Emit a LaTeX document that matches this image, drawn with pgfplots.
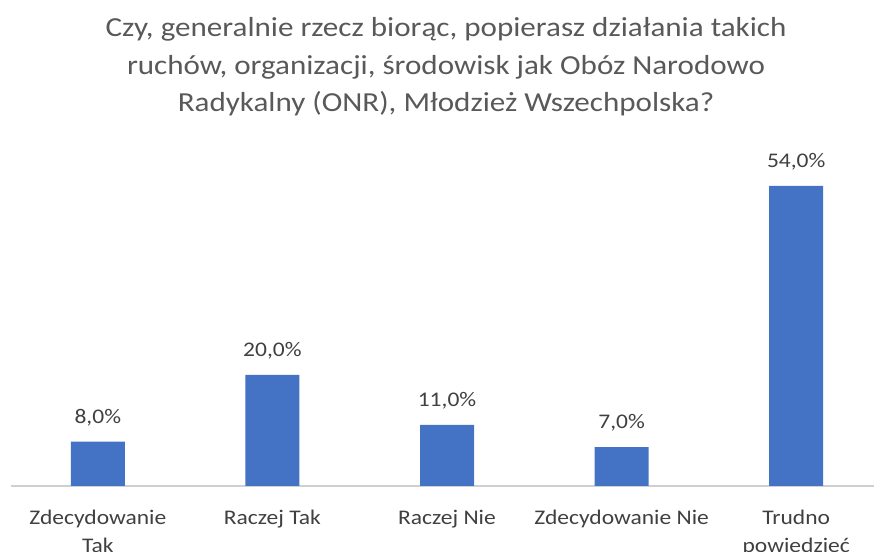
\documentclass[border=0pt]{standalone}
\usepackage{pgfplots}
\pgfplotsset{compat=1.18}
\usepackage{fontspec}
\setmainfont{Carlito}[FakeStretch=1.13]
\definecolor{barblue}{HTML}{4472C4}
\definecolor{titlegray}{HTML}{595959}
\definecolor{labelgray}{HTML}{404040}
\definecolor{axisgray}{HTML}{D0D0D0}

\begin{document}
\begin{tikzpicture}[x=1bp,y=1bp]
\useasboundingbox (0,0) rectangle (874,552);
\clip (0,0) rectangle (874,552);
\node[align=center, text=titlegray, font=\fontsize{27.5bp}{37.5bp}\selectfont]
  at (446,485) {Czy, generalnie rzecz biorąc, popierasz działania takich\\
  ruchów, organizacji, środowisk jak Obóz Narodowo\\
  Radykalny (ONR), Młodzież Wszechpolska?};
\begin{axis}[
  at={(10.5bp,66bp)}, anchor=south west,
  width=873bp, height=330bp, scale only axis,
  ymin=0, ymax=59.4,
  xmin=-0.5, xmax=4.5,
  ybar, bar width=54bp,
  axis x line=bottom, axis y line=none,
  x axis line style={draw=axisgray, line width=1.3bp, -},
  xtick=data,
  xticklabels={{Zdecydowanie\\Tak},{Raczej Tak},{Raczej Nie},{Zdecydowanie Nie},{Trudno\\powiedzieć}},
  xticklabel style={align=center, text=labelgray, font=\fontsize{20.8bp}{28bp}\selectfont, yshift=-21bp},
  major tick length=0pt,
  /pgf/number format/assume math mode=true,
  nodes near coords={\pgfmathprintnumber[fixed,fixed zerofill,precision=1,use comma]{\pgfplotspointmeta}\%},
  every node near coord/.append style={text=labelgray, font=\fontsize{20.8bp}{24bp}\selectfont, yshift=12bp},
]
\addplot[fill=barblue, draw=none] coordinates {(0,8) (1,20) (2,11) (3,7) (4,54)};
\end{axis}
\end{tikzpicture}
\end{document}
